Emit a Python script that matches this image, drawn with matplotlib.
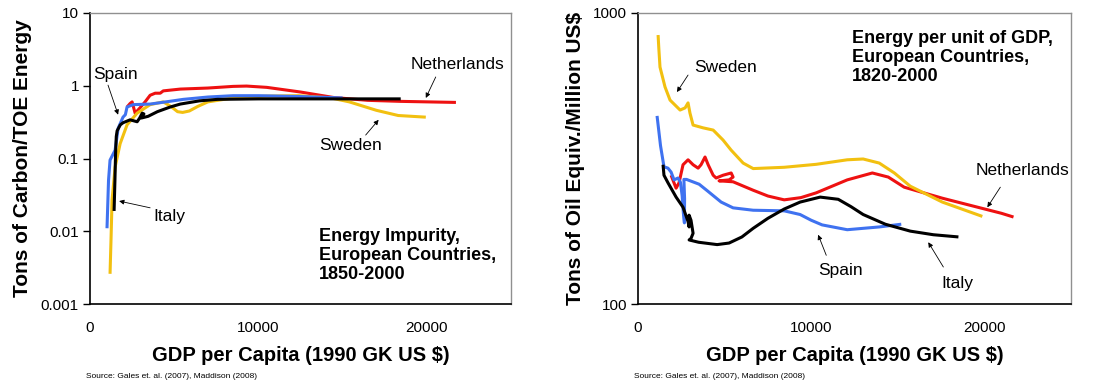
import matplotlib
matplotlib.use('Agg')
import matplotlib.pyplot as plt
from matplotlib.ticker import FixedLocator, FixedFormatter, NullLocator

plt.rcParams['font.family'] = ['Liberation Sans', 'DejaVu Sans']

# Energy impurity (tons of carbon per TOE) against GDP per capita, 1850-2000
imp_spain_x = [1010, 1100, 1190, 1490, 1670, 1960, 2100, 2200, 2560, 3570, 4500, 5540, 7000, 8500, 10000, 12500, 15000]
imp_spain_y = [0.011, 0.05, 0.095, 0.13, 0.26, 0.37, 0.4, 0.51, 0.55, 0.56, 0.6, 0.65, 0.7, 0.73, 0.73, 0.71, 0.68]

imp_neth_x = [2200, 2380, 2500, 2680, 2980, 3270, 3570, 3870, 4170, 4350, 4760, 5360, 7000, 8500, 9300, 10500, 12500, 14460, 16500, 18450, 21730]
imp_neth_y = [0.51, 0.57, 0.6, 0.42, 0.5, 0.6, 0.74, 0.79, 0.79, 0.85, 0.87, 0.9, 0.93, 0.98, 0.99, 0.95, 0.82, 0.69, 0.63, 0.61, 0.59]

imp_italy_x = [1430, 1480, 1520, 1560, 1610, 1800, 1960, 2380, 2800, 2950, 3100, 3200, 3050, 3450, 4000, 4760, 5360, 6500, 7560, 10000, 14000, 18450]
imp_italy_y = [0.019, 0.05, 0.12, 0.2, 0.24, 0.29, 0.31, 0.34, 0.32, 0.36, 0.42, 0.41, 0.36, 0.38, 0.44, 0.51, 0.56, 0.62, 0.65, 0.66, 0.66, 0.66]

imp_sweden_x = [1190, 1250, 1310, 1490, 1790, 2200, 2800, 3570, 4350, 4800, 5200, 5500, 5900, 6400, 7000, 8500, 10500, 12400, 14300, 15400, 17000, 18300, 19940]
imp_sweden_y = [0.0026, 0.008, 0.027, 0.076, 0.16, 0.29, 0.42, 0.55, 0.6, 0.52, 0.44, 0.43, 0.45, 0.52, 0.6, 0.68, 0.72, 0.73, 0.68, 0.6, 0.46, 0.39, 0.37]

# Energy intensity (TOE per million US$) against GDP per capita, 1820-2000
int_sweden_x = [1160, 1200, 1270, 1560, 1850, 2430, 2720, 2890, 2950, 3000, 3180, 3760, 4340, 4910, 5375, 6070, 6650, 8440, 10290, 12080, 13000, 13930, 14800, 15720, 17570, 19880]
int_sweden_y = [840, 760, 652, 557, 502, 464, 472, 491, 470, 453, 412, 403, 396, 366, 338, 305, 292, 295, 302, 313, 315, 305, 282, 254, 224, 200]

int_neth_x = [1910, 2200, 2370, 2600, 2890, 3180, 3470, 3640, 3870, 4050, 4340, 4510, 4910, 5380, 5490, 5260, 4680, 5490, 6650, 7500, 8440, 9400, 10290, 12080, 13530, 14450, 15370, 17570, 20980, 21680]
int_neth_y = [277, 250, 261, 301, 313, 301, 293, 301, 320, 301, 277, 271, 277, 282, 273, 267, 265, 263, 246, 235, 228, 232, 241, 267, 282, 273, 252, 231, 205, 199]

int_spain_x = [1100, 1300, 1500, 1730, 1910, 2080, 2310, 2450, 2550, 2620, 2680, 2690, 2650, 2800, 3530, 4000, 4800, 5490, 6650, 8440, 9360, 10000, 10630, 12080, 13930, 15200]
int_spain_y = [443, 350, 296, 293, 284, 267, 271, 262, 235, 205, 190, 230, 268, 268, 258, 245, 224, 214, 210, 209, 203, 194, 187, 180, 184, 188]

int_italy_x = [1445, 1500, 1730, 2200, 2600, 2890, 2950, 2950, 3060, 3180, 3060, 2950, 3500, 4570, 5260, 6000, 6650, 7500, 8440, 9360, 10520, 11560, 12300, 13000, 14280, 15720, 17050, 18500]
int_italy_y = [301, 277, 261, 233, 215, 192, 184, 202, 194, 175, 168, 166, 163, 160, 162, 170, 182, 197, 212, 224, 233, 229, 216, 203, 188, 178, 173, 170]

left_ticks = [0.001, 0.01, 0.1, 1, 10]
left_ticklabels = ['0.001', '0.01', '0.1', '1', '10']
right_ticks = [100, 1000]
right_ticklabels = ['100', '1000']
x_ticks = [0, 10000, 20000]

YELLOW = '#F2C010'
RED = '#EE1111'
BLUE = '#3F72F0'
BLACK = '#000000'

fig = plt.figure(figsize=(10.93, 3.85), dpi=100)
ax1 = fig.add_axes([90 / 1093, 1 - 304 / 385, 421 / 1093, 291 / 385])
ax2 = fig.add_axes([638 / 1093, 1 - 304 / 385, 433 / 1093, 291 / 385])


def style_axes(ax, ticks, labels, ylim, ylabel):
    ax.set_yscale('log')
    ax.set_xlim(0, 25000)
    ax.set_ylim(*ylim)
    ax.yaxis.set_major_locator(FixedLocator(ticks))
    ax.yaxis.set_major_formatter(FixedFormatter(labels))
    ax.yaxis.set_minor_locator(NullLocator())
    ax.set_xticks(x_ticks)
    ax.set_xticklabels([str(t) for t in x_ticks])
    ax.tick_params(axis='x', length=0, pad=12, labelsize=11)
    ax.tick_params(axis='y', length=5, width=1, pad=3, labelsize=11)
    for side in ['left', 'bottom']:
        ax.spines[side].set_color('black')
        ax.spines[side].set_linewidth(1.2)
    for side in ['top', 'right']:
        ax.spines[side].set_color('#909090')
        ax.spines[side].set_linewidth(1)
    ax.set_xlabel('GDP per Capita (1990 GK US $)', fontsize=14.5, fontweight='bold', labelpad=8)
    ax.set_ylabel(ylabel, fontsize=15, fontweight='bold', labelpad=6)


def note(ax, xy, xytext):
    ax.annotate('', xy=xy, xytext=xytext,
                arrowprops=dict(arrowstyle='-|>', color='black', lw=0.6, mutation_scale=7,
                                shrinkA=0, shrinkB=0))


line_kw = dict(lw=2.2, solid_joinstyle='round', solid_capstyle='butt')

# left panel
ax1.plot(imp_neth_x, imp_neth_y, color=RED, **line_kw)
ax1.plot(imp_sweden_x, imp_sweden_y, color=YELLOW, **line_kw)
ax1.plot(imp_spain_x, imp_spain_y, color=BLUE, **line_kw)
ax1.plot(imp_italy_x, imp_italy_y, color=BLACK, **line_kw)
style_axes(ax1, left_ticks, left_ticklabels, (0.001, 10), 'Tons of Carbon/TOE Energy')

ax1.text(1490, 1.45, 'Spain', fontsize=12.5, ha='center', va='center')
note(ax1, (1670, 0.40), (1070, 1.02))
ax1.text(4700, 0.0157, 'Italy', fontsize=12.5, ha='center', va='center')
note(ax1, (1730, 0.026), (3570, 0.021))
ax1.text(15480, 0.149, 'Sweden', fontsize=12.5, ha='center', va='center')
note(ax1, (17140, 0.34), (16370, 0.21))
ax1.text(21840, 1.99, 'Netherlands', fontsize=12.5, ha='center', va='center')
note(ax1, (19940, 0.68), (20530, 1.32))
ax1.text(0.543, 0.262, 'Energy Impurity,\nEuropean Countries,\n1850-2000', transform=ax1.transAxes,
         fontsize=13, fontweight='bold', ha='left', va='top', linespacing=1.15)

# right panel
ax2.plot(int_neth_x, int_neth_y, color=RED, **line_kw)
ax2.plot(int_sweden_x, int_sweden_y, color=YELLOW, **line_kw)
ax2.plot(int_spain_x, int_spain_y, color=BLUE, **line_kw)
ax2.plot(int_italy_x, int_italy_y, color=BLACK, **line_kw)
style_axes(ax2, right_ticks, right_ticklabels, (100, 1000), 'Tons of Oil Equiv./Million US$')

ax2.text(5030, 652, 'Sweden', fontsize=12.5, ha='center', va='center')
note(ax2, (2250, 535), (2890, 612))
ax2.text(22200, 288, 'Netherlands', fontsize=12.5, ha='center', va='center')
note(ax2, (20170, 215), (20920, 252))
ax2.text(11680, 130, 'Spain', fontsize=12.5, ha='center', va='center')
note(ax2, (10400, 173), (10870, 147))
ax2.text(18440, 118, 'Italy', fontsize=12.5, ha='center', va='center')
note(ax2, (16760, 163), (17630, 134))
ax2.text(0.495, 0.94, 'Energy per unit of GDP,\nEuropean Countries,\n1820-2000', transform=ax2.transAxes,
         fontsize=13, fontweight='bold', ha='left', va='top', linespacing=1.15)

fig.text(86 / 1093, 1 - 376 / 385, 'Source: Gales et. al. (2007), Maddison (2008)', fontsize=6, va='center')
fig.text(634 / 1093, 1 - 376 / 385, 'Source: Gales et. al. (2007), Maddison (2008)', fontsize=6, va='center')

fig.savefig('out.png', dpi=100)
